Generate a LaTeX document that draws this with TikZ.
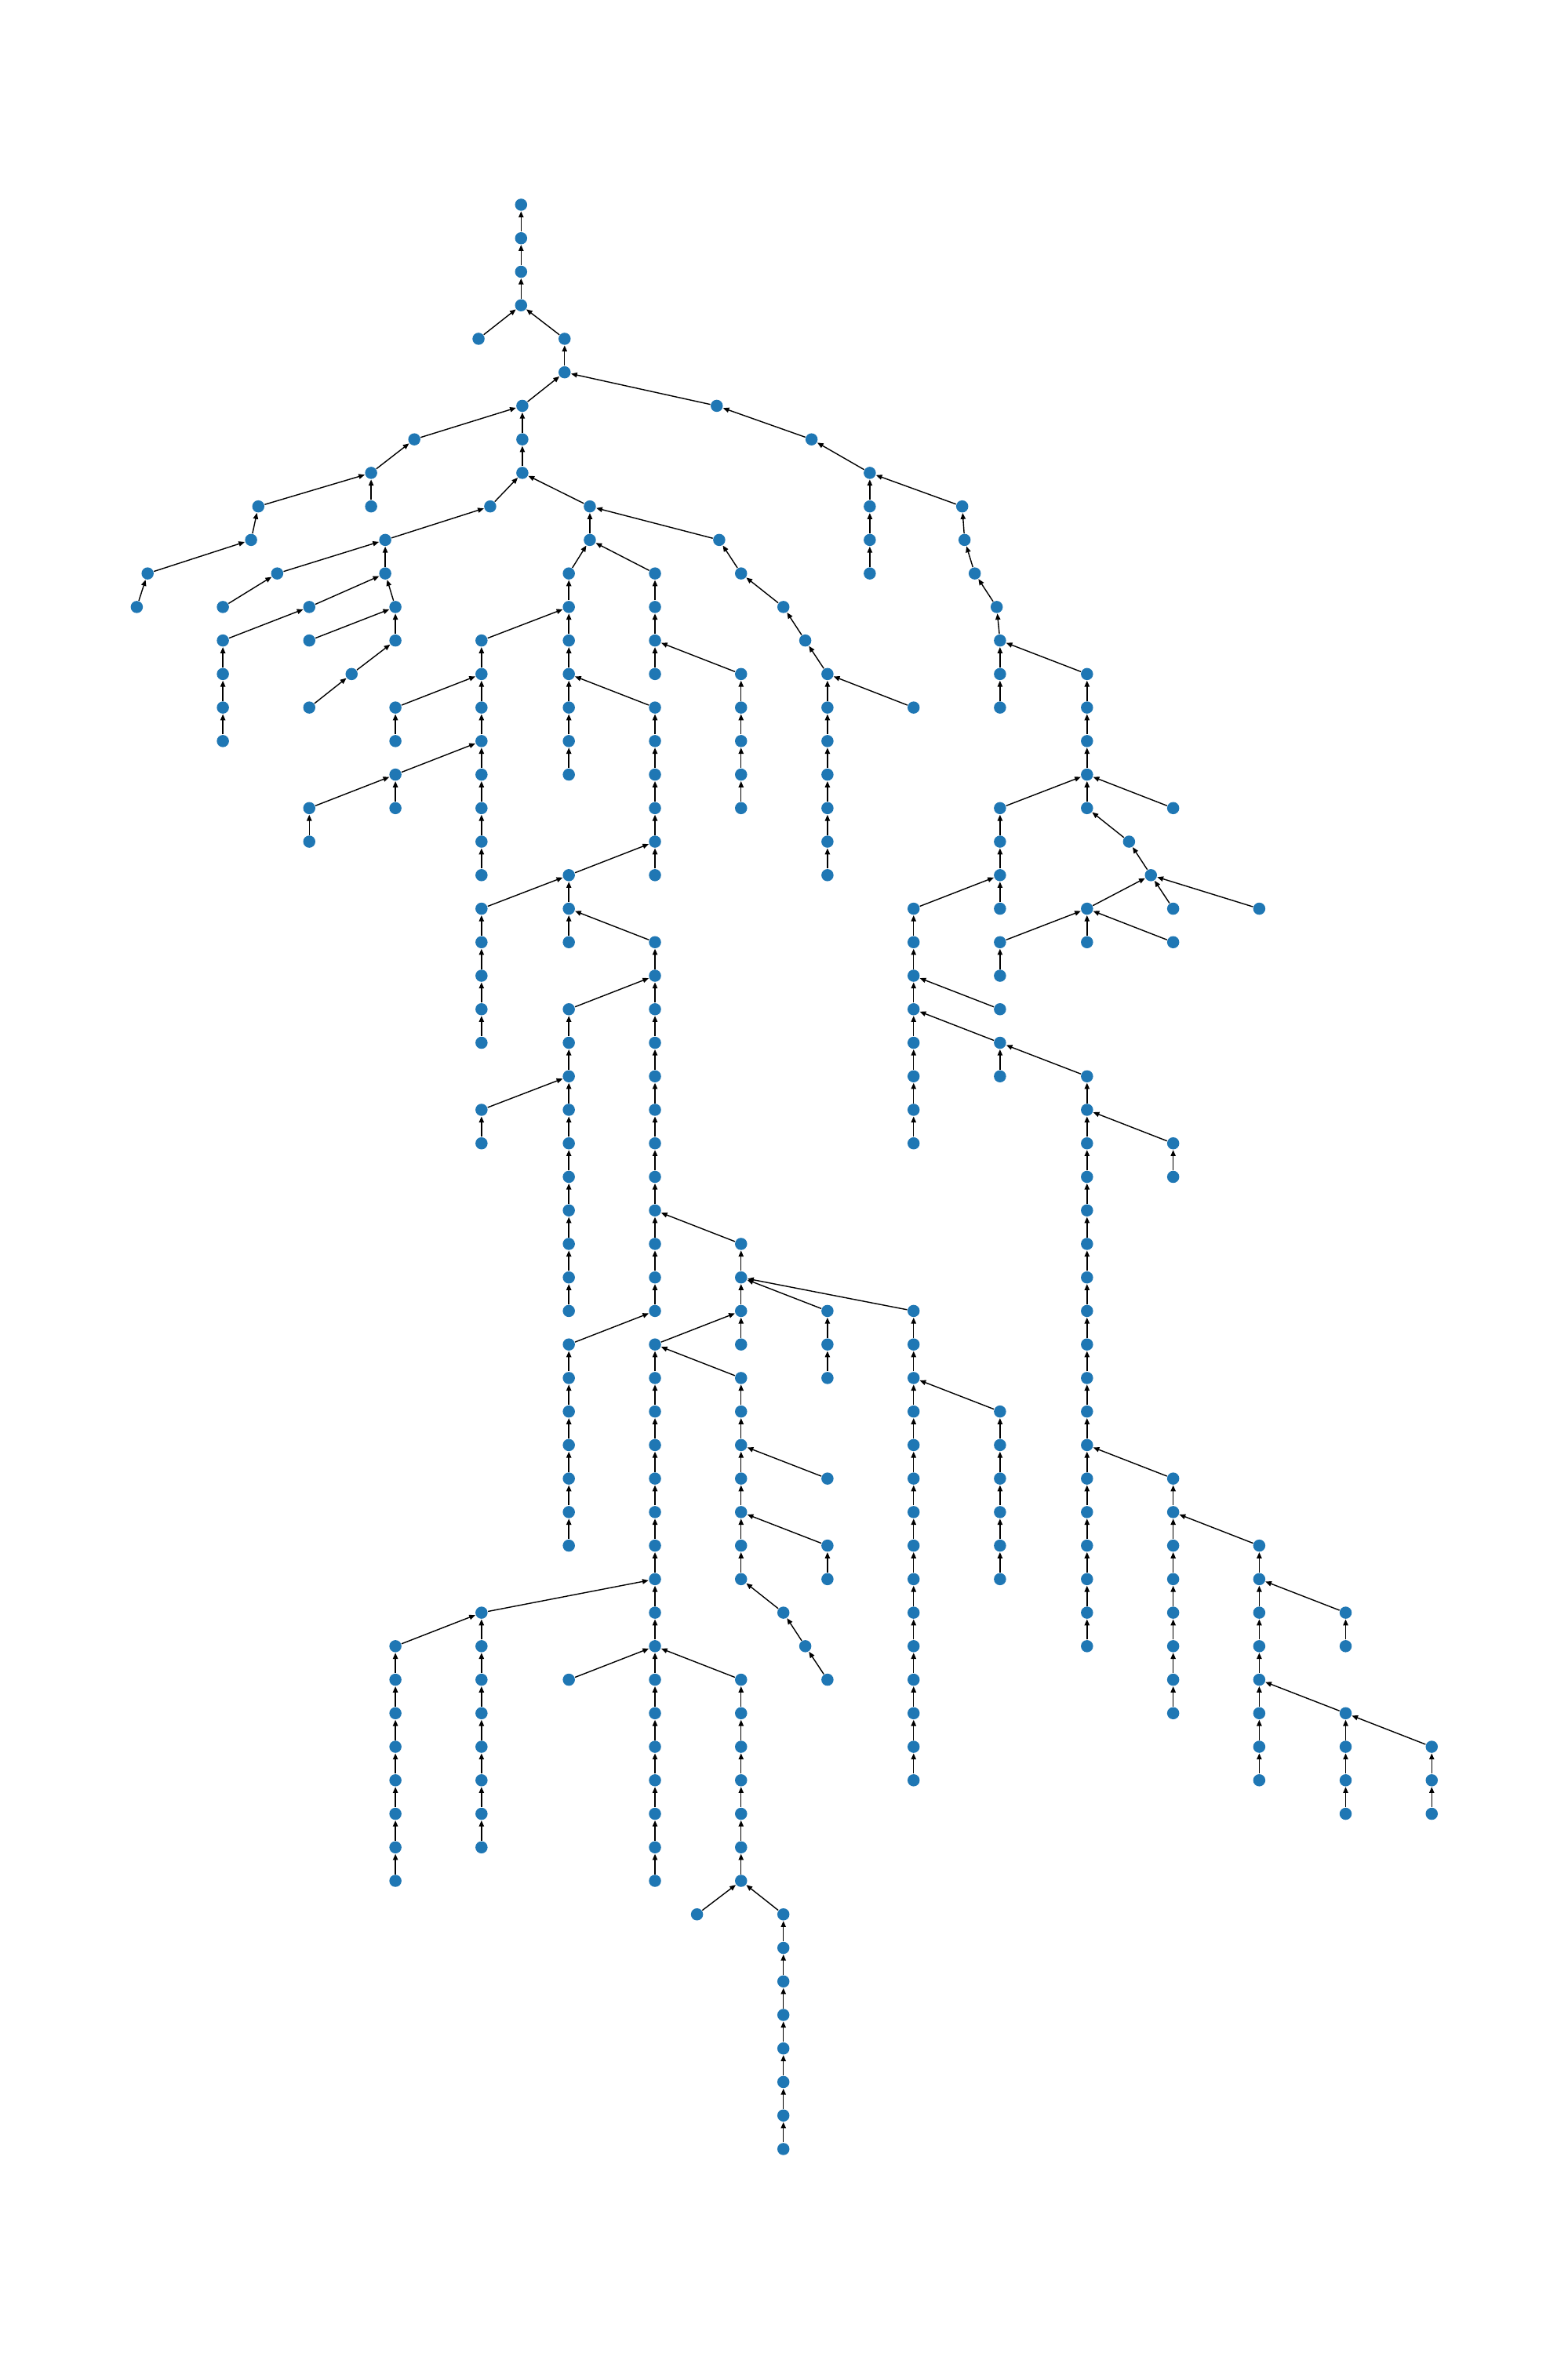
\documentclass[tikz,border=0pt]{standalone}
\usetikzlibrary{arrows.meta}
\definecolor{nb}{RGB}{31,119,180}
\tikzset{
  v/.style={circle, fill=nb, draw=none, inner sep=0pt, minimum size=0.155cm},
  e/.style={draw=black, line width=0.4pt, -{Triangle[length=2.2pt,width=1.8pt]}}
}
\newcommand\vchain[4]{%
  \foreach \r in {#3,...,#4} {\node[v] (#1\r) at (#2,\r) {};}%
  \foreach \r in {#3,...,#4} {\ifnum\r>#3 \pgfmathtruncatemacro\p{\r-1}\draw[e] (#1\r) -- (#1\p);\fi}%
}
\begin{document}
\begin{tikzpicture}[x=0.01cm, y=-0.4274cm]
\useasboundingbox (0,-6.1067) rectangle (2000,64.0852);
\fill[white] (0,-6.1067) rectangle (2000,64.0852);
% vertical chains: name, x, first row, last row
\vchain{P}{664.7}{0}{3}
\vchain{M}{610.4}{4}{4}
\vchain{R}{720.2}{4}{5}
\vchain{Q}{666.3}{6}{8}
\vchain{W}{914.3}{6}{6}
\vchain{L}{528.5}{7}{7}
\vchain{AB}{1035.2}{7}{7}
\vchain{I}{473.4}{8}{9}
\vchain{AD}{1109.5}{8}{11}
\vchain{E}{329.5}{9}{9}
\vchain{O}{625.3}{9}{9}
\vchain{T}{752.4}{9}{10}
\vchain{AF}{1227.4}{9}{9}
\vchain{D}{320.3}{10}{10}
\vchain{J}{491.4}{10}{11}
\vchain{X}{917.4}{10}{10}
\vchain{AG}{1230.4}{10}{10}
\vchain{B}{188.3}{11}{11}
\vchain{F}{353.6}{11}{11}
\vchain{S}{725.6}{11}{17}
\vchain{S}{725.6}{20}{22}
\vchain{S}{725.6}{24}{33}
\vchain{S}{725.6}{34}{40}
\vchain{S}{725.6}{44}{44}
\vchain{U}{835.5}{11}{14}
\vchain{U}{835.5}{15}{20}
\vchain{U}{835.5}{22}{33}
\vchain{U}{835.5}{34}{50}
\vchain{Y}{945.3}{11}{11}
\vchain{Y}{945.3}{14}{18}
\vchain{Y}{945.3}{31}{34}
\vchain{Y}{945.3}{35}{41}
\vchain{Y}{945.3}{44}{50}
\vchain{AH}{1243.4}{11}{11}
\vchain{A}{174.5}{12}{12}
\vchain{C}{284.3}{12}{12}
\vchain{C}{284.3}{13}{16}
\vchain{G}{394.5}{12}{12}
\vchain{G}{394.5}{13}{13}
\vchain{G}{394.5}{15}{15}
\vchain{G}{394.5}{18}{19}
\vchain{K}{504.4}{12}{13}
\vchain{K}{504.4}{15}{16}
\vchain{K}{504.4}{17}{18}
\vchain{K}{504.4}{43}{50}
\vchain{Z}{999.3}{12}{12}
\vchain{Z}{999.3}{42}{42}
\vchain{Z}{999.3}{51}{58}
\vchain{AI}{1271.4}{12}{12}
\vchain{N}{614.2}{13}{20}
\vchain{N}{614.2}{21}{25}
\vchain{N}{614.2}{27}{28}
\vchain{N}{614.2}{42}{49}
\vchain{AA}{1027.2}{13}{13}
\vchain{AA}{1027.2}{43}{43}
\vchain{AJ}{1275.6}{13}{15}
\vchain{AJ}{1275.6}{18}{21}
\vchain{AJ}{1275.6}{22}{23}
\vchain{AJ}{1275.6}{24}{24}
\vchain{AJ}{1275.6}{25}{26}
\vchain{AJ}{1275.6}{36}{41}
\vchain{H}{448.5}{14}{14}
\vchain{AC}{1055.5}{14}{20}
\vchain{AC}{1055.5}{33}{35}
\vchain{AC}{1055.5}{38}{38}
\vchain{AC}{1055.5}{40}{41}
\vchain{AC}{1055.5}{44}{44}
\vchain{AK}{1386.6}{14}{18}
\vchain{AK}{1386.6}{21}{22}
\vchain{AK}{1386.6}{26}{43}
\vchain{AE}{1165.4}{15}{15}
\vchain{AE}{1165.4}{21}{28}
\vchain{AE}{1165.4}{33}{47}
\vchain{AN}{1496.5}{18}{18}
\vchain{AN}{1496.5}{21}{21}
\vchain{AN}{1496.5}{22}{22}
\vchain{AN}{1496.5}{28}{29}
\vchain{AN}{1496.5}{38}{45}
\vchain{AL}{1440.2}{19}{19}
\vchain{AM}{1468.1}{20}{20}
\vchain{AO}{1606.3}{21}{21}
\vchain{AO}{1606.3}{40}{47}
\vchain{AP}{1716.5}{42}{43}
\vchain{AP}{1716.5}{45}{48}
\vchain{AQ}{1826.3}{46}{48}
\vchain{V}{889.1}{51}{51}
% branch edges (child -- parent)
\foreach \c/\pa in {M4/P3, R4/P3, Q6/R5, W6/R5, L7/Q6, AB7/W6, I8/L7, AD8/AB7,
  E9/I8, O9/Q8, T9/Q8, AF9/AD8, D10/E9, J10/O9, X10/T9, AG10/AF9,
  B11/D10, F11/J10, S11/T10, U11/T10, Y11/X10, AH11/AG10,
  A12/B11, C12/F11, G12/J11, K12/J11, Z12/Y11, AI12/AH11,
  C13/G12, G13/K12, N13/S12, AA13/Z12, AJ13/AI12,
  H14/K13, Y14/U13, AC14/AA13, AK14/AJ13,
  G15/H14, K15/N14, U15/S14, AE15/AC14,
  K17/N16, G18/K17, AJ18/AK17, AN18/AK17, AL19/AK18,
  S20/U19, AM20/AL19, N21/S20, AE21/AJ20, AK21/AM20, AN21/AM20, AO21/AM20,
  U22/S21, AJ22/AK21, AN22/AK21, S24/U23, AJ24/AE23, AJ25/AE24, AK26/AJ25,
  N27/S26, AN28/AK27, Y31/U30, AC33/Y32, AE33/Y32, S34/U33, U34/Y33, Y35/U34,
  AJ36/AE35, AC38/Y37, AN38/AK37, AC40/Y39, AO40/AN39,
  N42/U41, Z42/Y41, AP42/AO41, K43/N42, AA43/Z42,
  S44/U43, Y44/U43, AC44/AA43, AP45/AO44, AQ46/AP45, V51/Y50, Z51/Y50}
  {\draw[e] (\c) -- (\pa);}
\end{tikzpicture}
\end{document}
